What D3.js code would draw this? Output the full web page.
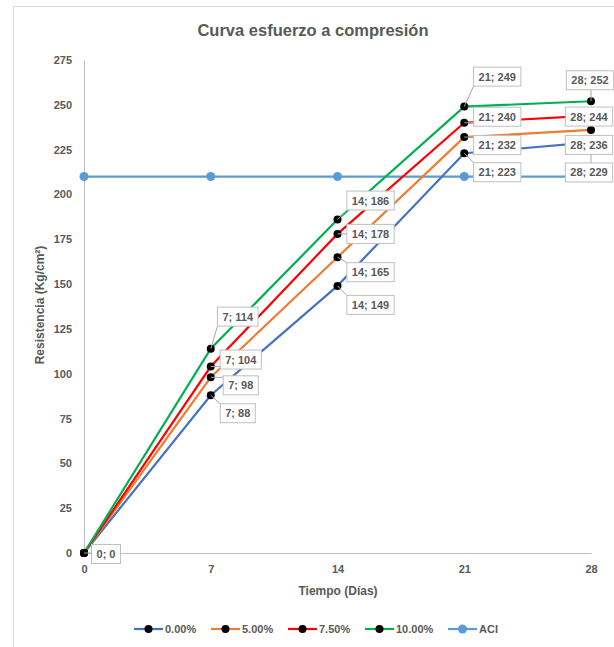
<!DOCTYPE html>
<html>
<head>
<meta charset="utf-8">
<script src="https://cdn.jsdelivr.net/npm/d3@7"></script>
<style>
  body { margin: 0; background: #fff; }
  text { font-family: "Liberation Sans", Arial, sans-serif; font-weight: bold; fill: #595959; }
</style>
</head>
<body>
<div id="chart"></div>
<script>
var days = [0, 7, 14, 21, 28];
var xTicks = [0, 7, 14, 21, 28];
var yTicks = [0, 25, 50, 75, 100, 125, 150, 175, 200, 225, 250, 275];

var seriesNames = ["0.00%", "5.00%", "7.50%", "10.00%", "ACI"];
var vals000 = [0, 88, 149, 223, 229];
var vals050 = [0, 98, 165, 232, 236];
var vals075 = [0, 104, 178, 240, 244];
var vals100 = [0, 114, 186, 249, 252];
var valsACI = [210, 210, 210, 210, 210];

var colors = ["#4472C4", "#ED7D31", "#FF0000", "#00B050", "#5B9BD5"];

// label offsets (px from the point), null = no label
var labelOffsets = [
  [[22, 1], [27, 18], [33, 19], [33, 19], [-2, 30]],
  [null, [30, 8], [33, 15], [33, 8], [-2, 15]],
  [null, [30, -7], [33, 0], [33, -6], [-2, 1]],
  [null, [27, -32], [33, -19], [33, -30], [-1, -21]],
  [null, null, null, null, null]
];

var allVals = [vals000, vals050, vals075, vals100, valsACI];

var W = 614, H = 647;
var svg = d3.select("#chart").append("svg")
  .attr("width", W).attr("height", H);

// chart frame
svg.append("rect")
  .attr("x", 13.5).attr("y", 6.5)
  .attr("width", 640).attr("height", 660)
  .attr("fill", "#fff").attr("stroke", "#D9D9D9");

var x = d3.scaleLinear().domain([0, 28]).range([84, 591]);
var y = d3.scaleLinear().domain([0, 275]).range([553, 60]);

svg.append("text")
  .attr("x", 313).attr("y", 36)
  .attr("text-anchor", "middle")
  .style("font-size", "16.5px")
  .text("Curva esfuerzo a compresión");

// y axis
var yAxis = svg.append("g").attr("transform", "translate(84,0)")
  .call(d3.axisLeft(y).tickValues(yTicks).tickSize(0).tickPadding(12));
yAxis.select(".domain").attr("stroke", "#BFBFBF");
yAxis.selectAll("text").style("font-size", "11px").attr("fill", "#595959")
  .style("font-family", "Liberation Sans, Arial, sans-serif").style("font-weight", "bold");

// x axis
var xAxis = svg.append("g").attr("transform", "translate(0,553)")
  .call(d3.axisBottom(x).tickValues(xTicks).tickSize(0).tickPadding(12));
xAxis.select(".domain").attr("stroke", "#BFBFBF");
xAxis.selectAll("text").style("font-size", "11px").attr("fill", "#595959")
  .style("font-family", "Liberation Sans, Arial, sans-serif").style("font-weight", "bold");

svg.append("text")
  .attr("x", 338).attr("y", 595)
  .attr("text-anchor", "middle")
  .style("font-size", "12px")
  .text("Tiempo (Días)");

svg.append("text")
  .attr("transform", "translate(44,305) rotate(-90)")
  .attr("text-anchor", "middle")
  .style("font-size", "12px")
  .text("Resistencia (Kg/cm²)");

var line = d3.line()
  .x(function(d) { return x(d.x); })
  .y(function(d) { return y(d.y); });

var series = allVals.map(function(v, i) {
  return {
    name: seriesNames[i],
    color: colors[i],
    points: v.map(function(val, j) {
      return { x: days[j], y: val, off: labelOffsets[i][j] };
    })
  };
});

// ACI first so it sits below the others
var order = [4, 0, 1, 2, 3];
order.forEach(function(i) {
  var s = series[i];
  svg.append("path")
    .datum(s.points)
    .attr("d", line)
    .attr("fill", "none")
    .attr("stroke", s.color)
    .attr("stroke-width", 2.2);
});

order.forEach(function(i) {
  var s = series[i];
  svg.selectAll(".m" + i)
    .data(s.points)
    .enter()
    .append("circle")
    .attr("cx", function(d) { return x(d.x); })
    .attr("cy", function(d) { return y(d.y); })
    .attr("r", i === 4 ? 4.5 : 4)
    .attr("fill", i === 4 ? s.color : "#000");
});

// data labels
var labelG = svg.append("g");
var labels = [];
series.forEach(function(s) {
  s.points.forEach(function(p) {
    if (p.off) labels.push(p);
  });
});

labels.forEach(function(p) {
  var px = x(p.x), py = y(p.y);
  var cx = px + p.off[0], cy = py + p.off[1];
  var g = labelG.append("g");
  var t = g.append("text")
    .attr("x", cx).attr("y", cy + 4)
    .attr("text-anchor", "middle")
    .style("font-size", "11px")
    .text(p.x + "; " + p.y);
  var w = t.node().getComputedTextLength() + 10, h = 19;
  var bx = cx - w / 2, by = cy - h / 2;
  // leader line to nearest point of box
  var nx = Math.max(bx, Math.min(px, bx + w));
  var ny = Math.max(by, Math.min(py, by + h));
  if (Math.hypot(nx - px, ny - py) > 6) {
    g.insert("line", "text")
      .attr("x1", px).attr("y1", py)
      .attr("x2", nx).attr("y2", ny)
      .attr("stroke", "#A6A6A6").attr("stroke-width", 1);
  }
  g.insert("rect", "text")
    .attr("x", bx).attr("y", by)
    .attr("width", w).attr("height", h)
    .attr("fill", "#fff").attr("stroke", "#BFBFBF");
});

// legend
var legendX = [134, 211, 288, 365, 448];
var legend = svg.append("g");
series.forEach(function(s, i) {
  var lx = legendX[i], ly = 629;
  legend.append("line")
    .attr("x1", lx).attr("x2", lx + 29)
    .attr("y1", ly).attr("y2", ly)
    .attr("stroke", s.color).attr("stroke-width", 2.2);
  legend.append("circle")
    .attr("cx", lx + 14.5).attr("cy", ly)
    .attr("r", i === 4 ? 4.5 : 4)
    .attr("fill", i === 4 ? s.color : "#000");
  legend.append("text")
    .attr("x", lx + 31).attr("y", ly + 4)
    .style("font-size", "11px")
    .text(s.name);
});
</script>
</body>
</html>
